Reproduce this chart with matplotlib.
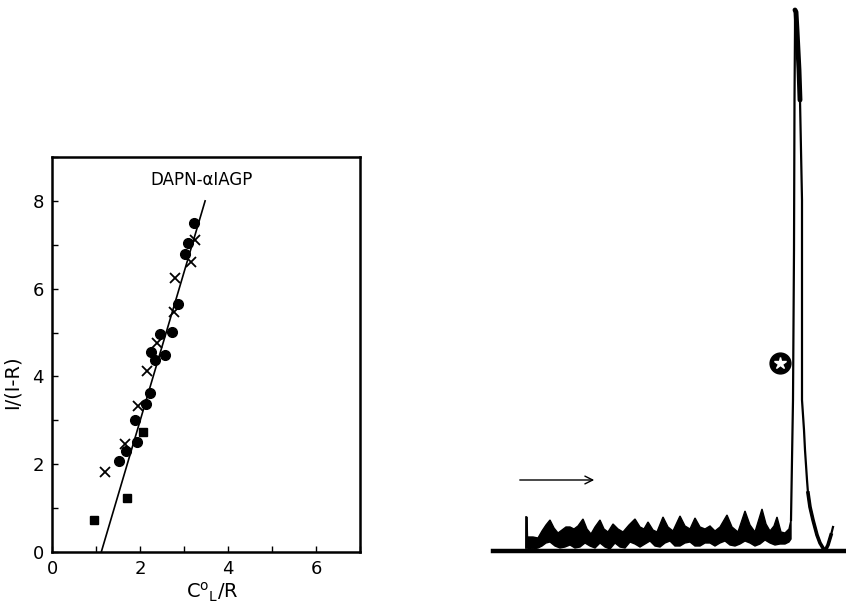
import matplotlib.pyplot as plt
import numpy as np

# binding plot: DAPN - alpha1 AGP
circle_x = [3.23, 3.09, 3.02, 2.87, 2.72, 2.46, 2.57, 2.24, 2.34, 2.23, 2.14, 1.88, 1.94, 1.68, 1.52]
circle_y = [7.49, 7.04, 6.80, 5.66, 5.02, 4.96, 4.49, 4.55, 4.38, 3.62, 3.37, 3.00, 2.51, 2.30, 2.07]
square_x = [2.06, 1.71, 0.95]
square_y = [2.74, 1.24, 0.74]
cross_x = [3.26, 3.15, 2.80, 2.78, 2.39, 2.16, 1.95, 1.67, 1.21]
cross_y = [7.12, 6.61, 6.24, 5.47, 4.76, 4.12, 3.33, 2.45, 1.82]
fit_x = [1.12, 3.48]
fit_y = [0.0, 8.0]
xticks = [0, 2, 4, 6]
yticks = [0, 2, 4, 6, 8]

# chart recorder trace (mm along the paper, mm above baseline)
noise_top_x = [33, 33.5, 34, 34.5, 40, 45, 49, 53, 57, 61, 65, 69, 73, 77, 81, 85, 90, 94, 98,
               102, 107, 111, 115, 120, 125, 130, 136, 142, 147, 151, 155, 160, 164, 170, 175,
               180, 187, 192, 197, 202, 207, 212, 217, 222, 227, 234, 239, 245, 252, 257, 262,
               269, 273, 277, 281, 284, 288, 292, 296, 298]
noise_top_y = [3, 34, 34, 14, 14, 13, 20, 26, 31, 23, 18, 21, 24, 24, 22, 25, 32, 22, 17,
               24, 31, 22, 19, 27, 22, 19, 26, 32, 24, 22, 29, 21, 19, 34, 24,
               20, 35, 25, 22, 33, 24, 22, 25, 20, 24, 36, 24, 19, 40, 26, 19,
               42, 27, 20, 25, 34, 19, 18, 22, 31]
noise_bot_x = [33, 40, 45, 49, 53, 57, 62, 67, 72, 77, 82, 87, 92, 97, 102, 107, 112, 117, 122,
               127, 132, 137, 142, 147, 152, 157, 162, 167, 172, 177, 182, 187, 192, 197, 202,
               207, 212, 217, 222, 227, 232, 237, 242, 247, 252, 257, 262, 267, 272, 277, 282,
               287, 292, 296, 298]
noise_bot_y = [3, 2, 3, 5, 8, 9, 5, 3, 4, 6, 3, 4, 8, 5, 3, 8, 4, 2, 8,
               4, 3, 9, 7, 4, 7, 10, 5, 4, 8, 10, 5, 5, 8, 9, 5,
               5, 8, 8, 5, 8, 10, 6, 5, 7, 10, 8, 5, 7, 11, 8, 6,
               7, 7, 9, 12]
peak_x = [298, 300, 301, 301.5, 302, 302, 303, 304, 306, 307, 309, 309, 309, 311, 312, 314,
          315, 317, 320, 324, 327, 330, 332, 335, 338, 340]
peak_y = [31, 151, 301, 451, 521, 541, 539, 521, 481, 451, 351, 251, 151, 121, 101, 71,
          58, 44, 31, 16, 8, 3, 0, 6, 16, 24]
star_x, star_y = 287, 188

fig = plt.figure(figsize=(8.46, 6.05), dpi=100)

ax = fig.add_axes([52 / 846, 1 - 552 / 605, 308 / 846, 395 / 605])
ax.plot(fit_x, fit_y, 'k-', lw=1.2)
ax.plot(circle_x, circle_y, 'ko', ms=7, mec='k')
ax.plot(square_x, square_y, 'ks', ms=6)
ax.plot(cross_x, cross_y, 'kx', ms=6.5, mew=1.3)
ax.text(3.41, 8.47, 'DAPN-αIAGP', ha='center', va='center', fontsize=12)
ax.set_xlim(0, 7)
ax.set_ylim(0, 9)
ax.set_xticks(xticks)
ax.set_yticks(yticks)
ax.set_xticks(np.arange(0, 8), minor=True)
ax.set_yticks(np.arange(0, 10), minor=True)
ax.tick_params(which='both', direction='in', length=4, width=1, labelsize=13)
ax.tick_params(axis='x', pad=6)
ax.tick_params(axis='y', pad=6)
for s in ax.spines.values():
    s.set_linewidth(1.8)
ax.set_xlabel(r'C$^{\mathregular{o}}$$_{\mathregular{L}}$/R', fontsize=14)
ax.xaxis.set_label_coords(0.52, -0.072)
ax.set_ylabel('I/(I-R)', fontsize=14)
ax.yaxis.set_label_coords(-0.10, 0.43)

ax2 = fig.add_axes([493 / 846, 54 / 605, 353 / 846, 546 / 605])
outline_x = noise_top_x + noise_bot_x[::-1]
outline_y = noise_top_y + noise_bot_y[::-1]
ax2.fill(outline_x, outline_y, color='k', lw=1)
ax2.plot([33, 33], [3, 34], 'k-', lw=1.2)
ax2.plot(peak_x, peak_y, 'k-', lw=1.6, clip_on=False)
ax2.plot(peak_x[5:10], peak_y[5:10], 'k-', lw=3.5, solid_capstyle='round')
ax2.plot(peak_x[16:25], peak_y[16:25], 'k-', lw=2.6)
ax2.plot(star_x, star_y, 'ko', ms=15)
ax2.plot(star_x, star_y, marker='*', color='w', ms=9, mec='w')
ax2.annotate('', xy=(104, 71), xytext=(24, 71),
             arrowprops=dict(arrowstyle='->', lw=1, color='k', mutation_scale=14))
ax2.set_xlim(0, 353)
ax2.set_ylim(0, 546)
for side in ['top', 'right', 'left']:
    ax2.spines[side].set_visible(False)
ax2.spines['bottom'].set_linewidth(3.2)
ax2.set_xticks([])
ax2.set_yticks([])
ax2.patch.set_alpha(0)

plt.savefig('out.png', dpi=100)
